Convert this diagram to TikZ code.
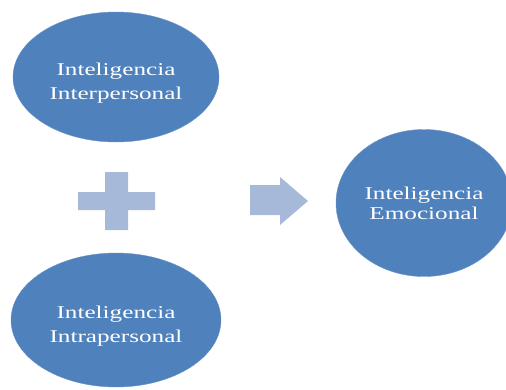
\documentclass[tikz,border=0pt]{standalone}
\usepackage{fontspec}
\setmainfont{Liberation Serif}[FakeStretch=1.4]
\usetikzlibrary{shapes}
\definecolor{ovalblue}{HTML}{4F81BD}
\definecolor{signblue}{HTML}{A7B9D9}
\tikzstyle{oval} = [ellipse, fill=ovalblue, draw=ovalblue!85!white, text=white,
    align=center, inner sep=0pt, font=\fontsize{18}{24}\selectfont,
    text height=49pt, text depth=5pt]
\tikzstyle{sign} = [fill=signblue]

\begin{document}
\begin{tikzpicture}[x=1pt, y=-1pt, node distance = 243pt]
    \useasboundingbox (0,0) rectangle (506,389);

    % Place nodes
    \node [oval, minimum width=206pt, minimum height=130pt] (inter) at (116,77) {Inteligencia\\ Interpersonal};
    \node [oval, below of=inter, minimum width=210pt, minimum height=134pt] (intra) {Inteligencia\\ Intrapersonal};
    \node [oval, minimum width=176pt, minimum height=147pt, font=\fontsize{18}{20}\selectfont,
        text height=37pt, text depth=4pt] (emo) at (424,203) {Inteligencia\\ Emocional};

    % Draw signs
    \coordinate (plus) at (116.5,201);
    \fill [sign, shift={(plus)}] (-11.5,-29) rectangle (11.5,29) (-38.5,-9) rectangle (38.5,9);
    \fill [sign] (250,185) -- (280,185) -- (280,177) -- (308,201) -- (280,225) -- (280,215) -- (250,215) -- cycle;

\end{tikzpicture}
\end{document}
